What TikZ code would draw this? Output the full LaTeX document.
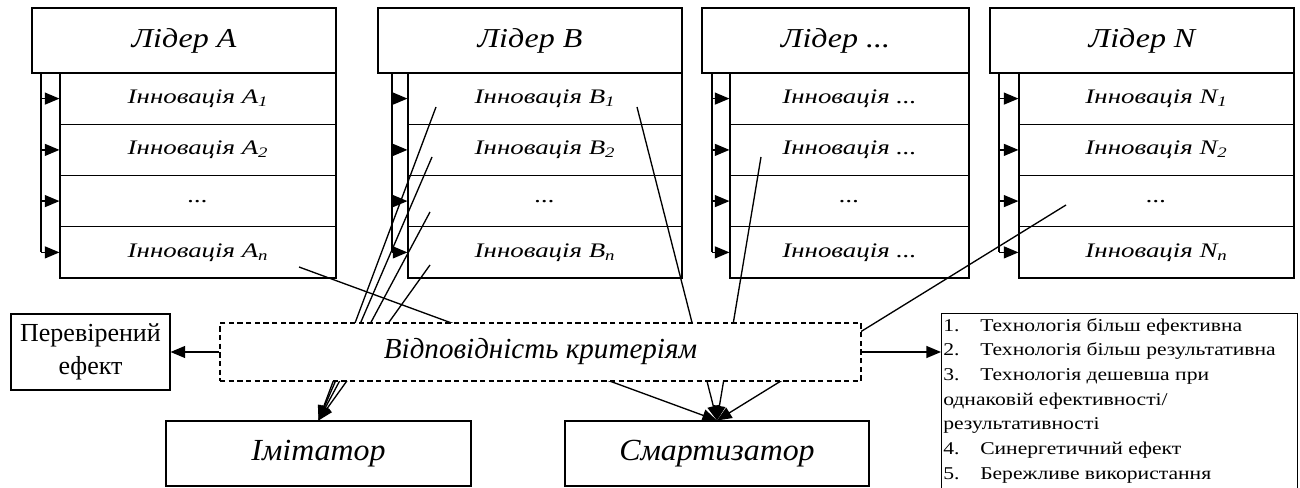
\documentclass[tikz,border=0pt]{standalone}
\usepackage{fontspec}
\setmainfont{Liberation Serif}
\newfontfamily\leadf{Liberation Serif}[FakeStretch=1.17]
\newfontfamily\innf{Liberation Serif}[FakeStretch=1.3]
\newfontfamily\imf{Liberation Serif}[FakeStretch=1.04]
\newfontfamily\listf{Liberation Serif}[FakeStretch=1.2]
\usetikzlibrary{arrows.meta}
\begin{document}
\begin{tikzpicture}[x=0.75pt,y=-0.75pt,
  box/.style={draw, line width=0.8pt, inner sep=0pt, fill=white},
  conn/.style={line width=1pt},
  tri/.style={-{Triangle[length=11pt,width=9pt]}},
  vline/.style={line width=1.4pt},
  leadfont/.style={font=\leadf\fontsize{20.5}{24}\selectfont\itshape},
  innfont/.style={font=\innf\fontsize{15.5}{18}\selectfont\itshape},
  bigfont/.style={font=\imf\fontsize{23}{27}\selectfont\itshape},
  critfont/.style={font=\fontsize{21.8}{25}\selectfont\itshape}]
\useasboundingbox (0,0) rectangle (1300,488);

% columns: name / left / right / innov-left / vline x / leader label / innov labels
\foreach \c/\L/\R/\IL/\V/\lab/\ia/\ib/\ic in {
  A/32/336/60/41/{Лідер A}/{Інновація A\textsubscript{1}}/{Інновація A\textsubscript{2}}/{Інновація A\textsubscript{n}},
  B/378/682/408/392/{Лідер B}/{Інновація B\textsubscript{1}}/{Інновація B\textsubscript{2}}/{Інновація B\textsubscript{n}},
  D/702/969/730/712/{Лідер ...}/{Інновація ...}/{Інновація ...}/{Інновація ...},
  N/990/1294/1019/999/{Лідер N}/{Інновація N\textsubscript{1}}/{Інновація N\textsubscript{2}}/{Інновація N\textsubscript{n}}}{
  \pgfmathsetmacro\lc{(\L+\R)/2}
  \pgfmathsetmacro\lw{(\R-\L)*0.75}
  \pgfmathsetmacro\rc{(\IL+\R)/2}
  \pgfmathsetmacro\rw{(\R-\IL)*0.75}
  \node[box, leadfont, minimum width=\lw pt, minimum height=48.75pt] (L\c) at (\lc,40.5) {\lab};
  \node[box, innfont, minimum width=\rw pt, minimum height=38.44pt] (\c1) at (\rc,98.6) {\ia};
  \node[box, innfont, minimum width=\rw pt, minimum height=38.44pt] (\c2) at (\rc,149.9) {\ib};
  \node[box, innfont, minimum width=\rw pt, minimum height=38.44pt] (\c3) at (\rc,201.1) {...};
  \node[box, innfont, minimum width=\rw pt, minimum height=38.44pt] (\c4) at (\rc,252.4) {\ic};
  \coordinate (\c top) at (\V,73);
  \coordinate (\c bot) at (\V,252.4);
  \draw[vline] (\c top) -- (\c bot);
  \foreach \i in {1,2,3,4}{
    \draw[conn,tri] (\c bot |- \c\i.west) -- (\c\i.west);
  }
}

% bottom boxes
\node[box, font=\fontsize{19.5}{25}\selectfont, align=center, minimum width=119.25pt, minimum height=57pt] (eff) at (90.5,352) {Перевірений\\ефект};
\node[box, bigfont, minimum width=228.75pt, minimum height=48.75pt] (imit) at (318.5,453.5) {Імітатор};
\node[box, bigfont, minimum width=228pt, minimum height=48.75pt] (smart) at (717,453.5) {Смартизатор};

% start points of connectors
\coordinate (sAn) at (299,267);
\coordinate (sB1) at (436,107);
\coordinate (sB2) at (432,157);
\coordinate (sB3) at (430,212);
\coordinate (sB4) at (430,265);
\coordinate (sB1r) at (637,107);
\coordinate (sD2) at (761,157);
\coordinate (sN3) at (1066,205);

\foreach \s in {sB1,sB2,sB3,sB4}{
  \draw[conn,tri] (\s) -- (imit.north);
}
\foreach \s in {sAn,sB1r,sD2,sN3}{
  \draw[conn,tri] (\s) -- (smart.north);
}

% criteria box (white, covering connectors)
\node[draw, fill=white, dash pattern=on 4pt off 2.5pt, line width=0.8pt, critfont,
      minimum width=480.75pt, minimum height=43.5pt, inner sep=0pt] (crit) at (540.5,352) {Відповідність критеріям};

% list box
\node[draw, line width=0.8pt, anchor=north west, minimum width=267pt, minimum height=140pt, inner sep=0pt] (list) at (941,313) {};
\node[anchor=north west, inner sep=0pt, align=left, font=\listf\fontsize{13.5}{18.5}\selectfont] (listtxt) at (943,318) {%
\makebox[27.75pt][l]{1.}Технологія більш ефективна\\
\makebox[27.75pt][l]{2.}Технологія більш результативна\\
\makebox[27.75pt][l]{3.}Технологія дешевша при\\
однаковій ефективності/\\
результативності\\
\makebox[27.75pt][l]{4.}Синергетичний ефект\\
\makebox[27.75pt][l]{5.}Бережливе використання};

\draw[conn,tri] (crit.west) -- (eff.east);
\draw[conn,tri] (crit.east) -- (crit.east -| list.west);
\end{tikzpicture}
\end{document}
